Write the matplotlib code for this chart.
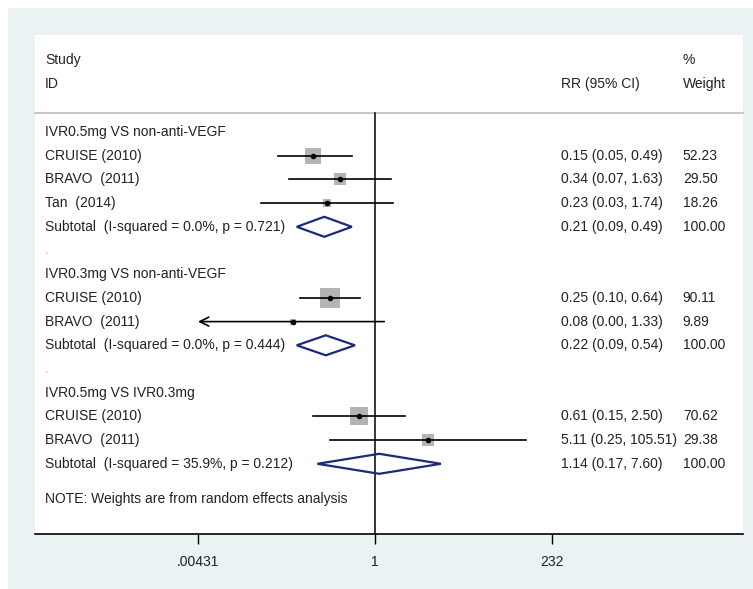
import numpy as np
import matplotlib.pyplot as plt
from matplotlib.patches import Rectangle, Polygon
from matplotlib.transforms import blended_transform_factory

plt.rcParams['font.family'] = ['Liberation Sans', 'DejaVu Sans']

# Study rows: (label, rr, lo, hi, weight)
groups = ['IVR0.5mg VS non-anti-VEGF', 'IVR0.3mg VS non-anti-VEGF', 'IVR0.5mg VS IVR0.3mg']
study_labels = [['CRUISE (2010)', 'BRAVO  (2011)', 'Tan  (2014)'],
                ['CRUISE (2010)', 'BRAVO  (2011)'],
                ['CRUISE (2010)', 'BRAVO  (2011)']]
rr = [[0.15, 0.34, 0.23], [0.25, 0.08], [0.61, 5.11]]
lo = [[0.05, 0.07, 0.03], [0.10, 0.004], [0.15, 0.25]]
hi = [[0.49, 1.63, 1.74], [0.64, 1.33], [2.50, 105.51]]
weights = [[52.23, 29.50, 18.26], [90.11, 9.89], [70.62, 29.38]]
rr_text = [['0.15 (0.05, 0.49)', '0.34 (0.07, 1.63)', '0.23 (0.03, 1.74)'],
           ['0.25 (0.10, 0.64)', '0.08 (0.00, 1.33)'],
           ['0.61 (0.15, 2.50)', '5.11 (0.25, 105.51)']]
wt_text = [['52.23', '29.50', '18.26'], ['90.11', '9.89'], ['70.62', '29.38']]

sub_labels = ['Subtotal  (I-squared = 0.0%, p = 0.721)',
              'Subtotal  (I-squared = 0.0%, p = 0.444)',
              'Subtotal  (I-squared = 35.9%, p = 0.212)']
sub_rr = [0.21, 0.22, 1.14]
sub_lo = [0.09, 0.09, 0.17]
sub_hi = [0.49, 0.54, 7.60]
sub_text = ['0.21 (0.09, 0.49)', '0.22 (0.09, 0.54)', '1.14 (0.17, 7.60)']

xticks = [0.00431, 1, 232]
xticklabels = ['.00431', '1', '232']

W, H = 753, 589
fig = plt.figure(figsize=(W / 100, H / 100), dpi=100, facecolor='white')
# outer light bluish-gray region
fig.patches.append(Rectangle((8 / W, 0), 1 - 8 / W, 1 - 8 / H, transform=fig.transFigure,
                             facecolor='#EAF2F3', edgecolor='none', zorder=-10))

ax = fig.add_axes([35 / W, (H - 534) / H, (743 - 35) / W, (534 - 35) / H])
ax.set_facecolor('white')
ax.set_xscale('log')
dec = 177 / np.log10(232)
ax.set_xlim(10 ** (-(375 - 35) / dec), 10 ** ((743 - 375) / dec))
row_h = 23.7
ax.set_ylim((534 - 132) / row_h, (35 - 132) / row_h)
for s in ['top', 'left', 'right']:
    ax.spines[s].set_visible(False)
ax.spines['bottom'].set_linewidth(1.2)
ax.set_yticks([])
ax.set_xticks(xticks)
ax.set_xticklabels(xticklabels, fontsize=10, color='#222222')
ax.xaxis.set_minor_locator(plt.NullLocator())
ax.tick_params(axis='x', length=7, width=1, pad=8)

tr = blended_transform_factory(ax.transAxes, ax.transData)
xl, xr_rr, xr_w = 0.014, 0.743, 0.915
fs = 10
tc = '#222222'

# header
ax.text(xl, -3.04, 'Study', transform=tr, fontsize=fs, color=tc, va='center')
ax.text(xl, -2.03, 'ID', transform=tr, fontsize=fs, color=tc, va='center')
ax.text(xr_w, -3.04, '%', transform=tr, fontsize=fs, color=tc, va='center')
ax.text(xr_rr, -2.03, 'RR (95% CI)', transform=tr, fontsize=fs, color=tc, va='center')
ax.text(xr_w, -2.03, 'Weight', transform=tr, fontsize=fs, color=tc, va='center')
hdr_y = (113 - 132) / row_h
ax.plot([0, 1], [hdr_y, hdr_y], transform=tr, color='#C8C8C8', lw=1.5, clip_on=False)

# null line
ax.plot([1, 1], [hdr_y, ax.get_ylim()[0]], color='black', lw=1.1)

box_scale = 2.1  # px per sqrt(weight)
px_per_row = row_h
row = 0
for g in range(len(groups)):
    ax.text(xl, row, groups[g], transform=tr, fontsize=fs, color=tc, va='center')
    row += 1
    for i in range(len(study_labels[g])):
        ax.text(xl, row, study_labels[g][i], transform=tr, fontsize=fs, color=tc, va='center')
        ax.text(xr_rr, row, rr_text[g][i], transform=tr, fontsize=fs, color=tc, va='center')
        ax.text(xr_w, row, wt_text[g][i], transform=tr, fontsize=fs, color=tc, va='center')
        # box sized by weight
        side = box_scale * np.sqrt(weights[g][i])
        ax.plot(rr[g][i], row, marker='s', markersize=side * 0.72, color='#B4B4B4',
                markeredgewidth=0, zorder=2)
        l = max(lo[g][i], xticks[0])
        if lo[g][i] < xticks[0]:
            ax.annotate('', xy=(l, row), xytext=(hi[g][i], row),
                        arrowprops=dict(arrowstyle='->', lw=1.2, color='black',
                                        shrinkA=0, shrinkB=0, mutation_scale=16), zorder=3)
        else:
            ax.plot([l, hi[g][i]], [row, row], color='black', lw=1.2, zorder=3)
        ax.plot(rr[g][i], row, marker='o', markersize=3, color='black', zorder=4)
        row += 1
    # subtotal diamond
    ax.text(xl, row, sub_labels[g], transform=tr, fontsize=fs, color=tc, va='center')
    ax.text(xr_rr, row, sub_text[g], transform=tr, fontsize=fs, color=tc, va='center')
    ax.text(xr_w, row, '100.00', transform=tr, fontsize=fs, color=tc, va='center')
    hh = 10 / row_h
    dia = Polygon([(sub_lo[g], row), (sub_rr[g], row - hh), (sub_hi[g], row), (sub_rr[g], row + hh)],
                  closed=True, fill=False, edgecolor='#1C2A7C', lw=1.6, zorder=3)
    ax.add_patch(dia)
    row += 1
    if g < len(groups) - 1:
        ax.text(xl, row, '.', transform=tr, fontsize=fs, color='#C8C8C8', va='center')
        row += 1

ax.text(xl, 15.49, 'NOTE: Weights are from random effects analysis', transform=tr,
        fontsize=fs, color=tc, va='center')

fig.savefig('out.png', dpi=100, facecolor='white')
